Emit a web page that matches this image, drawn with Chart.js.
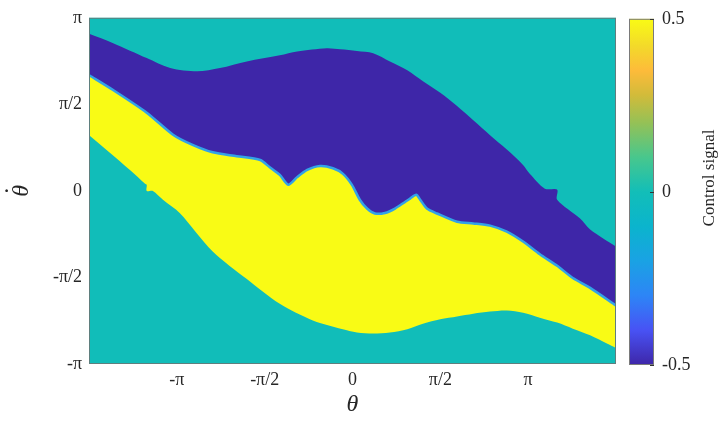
<!DOCTYPE html>
<html>
<head>
<meta charset="utf-8">
<script src="https://cdn.jsdelivr.net/npm/chart.js@4/dist/chart.umd.min.js"></script>
<style>
  html, body { margin: 0; padding: 0; background: #fff; }
  #wrap { position: relative; width: 722px; height: 424px; }
  #main { position: absolute; left: 0; top: 0; }
  #cbar { position: absolute; left: 629px; top: 0; }
</style>
</head>
<body>
<div id="wrap">
  <canvas id="main" width="722" height="424"></canvas>
  <canvas id="cbar" width="93" height="424"></canvas>
</div>
<script>
const PI = Math.PI;

// axis ticks
const xTickValues = [-PI, -PI / 2, 0, PI / 2, PI];
const xTickLabels = ["-π", "-π/2", "0", "π/2", "π"];
const yTickValues = [-PI, -PI / 2, 0, PI / 2, PI];
const yTickLabels = ["-π", "-π/2", "0", "π/2", "π"];
const cbTickValues = [-0.5, 0, 0.5];
const cbTickLabels = ["-0.5", "0", "0.5"];

// upper edge of the -0.5 region (theta, theta dot)
const topTheta = [-4.71, -4.28, -3.68, -3.26, -2.78, -2.37, -1.89, -1.30, -0.99, -0.46, -0.22, 0.08, 0.37, 0.67, 0.98, 1.26, 1.57, 1.87, 2.16, 2.46, 2.76, 3.05, 3.17, 3.44, 3.66, 3.66, 4.07, 4.25, 4.71];
const topOmega = [2.85, 2.68, 2.41, 2.23, 2.17, 2.23, 2.35, 2.46, 2.53, 2.59, 2.57, 2.54, 2.50, 2.35, 2.19, 1.99, 1.78, 1.54, 1.28, 1.01, 0.75, 0.47, 0.31, 0.04, 0.02, -0.16, -0.50, -0.70, -1.01];

// switching curve between -0.5 and +0.5
const midTheta = [-4.71, -4.28, -3.68, -3.21, -2.85, -2.50, -2.07, -1.65, -1.48, -1.30, -1.15, -0.99, -0.81, -0.58, -0.35, -0.17, -0.01, 0.13, 0.26, 0.40, 0.58, 0.76, 0.94, 1.03, 1.14, 1.21, 1.33, 1.51, 1.87, 2.16, 2.46, 2.76, 3.05, 3.35, 3.66, 3.94, 4.25, 4.71];
const midOmega = [2.10, 1.83, 1.42, 1.02, 0.83, 0.70, 0.63, 0.56, 0.43, 0.29, 0.11, 0.25, 0.38, 0.45, 0.41, 0.31, 0.11, -0.16, -0.32, -0.41, -0.40, -0.32, -0.20, -0.14, -0.07, -0.16, -0.32, -0.41, -0.56, -0.59, -0.63, -0.74, -0.92, -1.15, -1.36, -1.58, -1.76, -2.08];

// lower edge of the +0.5 region
const botTheta = [-4.71, -3.98, -3.71, -3.68, -3.68, -3.57, -3.39, -3.09, -2.50, -1.89, -1.30, -0.71, -0.10, 0.08, 0.37, 0.67, 0.98, 1.26, 1.57, 1.87, 2.16, 2.46, 2.76, 3.05, 3.35, 3.66, 3.94, 4.25, 4.55, 4.71];
const botOmega = [1.01, 0.38, 0.13, 0.11, 0.00, 0.00, -0.16, -0.40, -1.10, -1.60, -2.05, -2.35, -2.53, -2.57, -2.59, -2.57, -2.51, -2.41, -2.33, -2.28, -2.23, -2.19, -2.17, -2.21, -2.30, -2.39, -2.50, -2.62, -2.77, -2.85];

const TEAL = "#11bdb9";
const BLUE = "#3e26a8";
const YELLOW = "#f9fb15";
const TXT = "#262626";
const SERIF = "'Liberation Serif', 'Times New Roman', serif";

const pts = (xs, ys) => xs.map((x, i) => ({ x: x, y: ys[i] }));

const boxPlugin = {
  id: "box",
  beforeDraw(chart) {
    const a = chart.chartArea;
    const c = chart.ctx;
    c.save();
    c.fillStyle = TEAL;
    c.fillRect(a.left, a.top, a.right - a.left, a.bottom - a.top);
    c.restore();
  },
  afterDraw(chart) {
    const a = chart.chartArea;
    const c = chart.ctx;
    c.save();
    c.strokeStyle = "#5f7f7e";
    c.lineWidth = 1;
    c.strokeRect(a.left + 0.5, a.top + 0.5, a.right - a.left - 1, a.bottom - a.top - 1);
    c.restore();
  },
};

new Chart(document.getElementById("main"), {
  type: "line",
  data: {
    datasets: [
      {
        label: "lower",
        data: pts(botTheta, botOmega),
        backgroundColor: TEAL,
        borderWidth: 0,
        pointRadius: 0,
        tension: 0.3,
        fill: "start",
      },
      {
        label: "switch",
        data: pts(midTheta, midOmega),
        backgroundColor: YELLOW,
        borderColor: "#33a3e6",
        borderWidth: 2.5,
        pointRadius: 0,
        tension: 0.25,
        fill: "start",
      },
      {
        label: "upper",
        data: pts(topTheta, topOmega),
        backgroundColor: BLUE,
        borderWidth: 0,
        pointRadius: 0,
        tension: 0.3,
        fill: "start",
      },
    ],
  },
  options: {
    responsive: false,
    animation: false,
    devicePixelRatio: 1,
    layout: { padding: { left: 0, right: 106, top: 13, bottom: 0 } },
    plugins: { legend: { display: false }, tooltip: { enabled: false } },
    scales: {
      x: {
        type: "linear",
        min: -1.5 * PI,
        max: 1.5 * PI,
        afterBuildTicks: (s) => { s.ticks = xTickValues.map((v) => ({ value: v })); },
        afterFit: (s) => { s.height = 60; },
        grid: { display: false, drawTicks: false },
        border: { display: false },
        ticks: {
          color: TXT,
          padding: 5,
          font: { family: SERIF, size: 18 },
          maxRotation: 0,
          callback: (v) => xTickLabels[xTickValues.findIndex((t) => Math.abs(t - v) < 1e-6)],
        },
        title: {
          display: true,
          text: "θ",
          color: TXT,
          font: { family: SERIF, size: 24, style: "italic" },
          padding: { top: 0, bottom: 5 },
        },
      },
      y: {
        type: "linear",
        min: -PI,
        max: PI,
        afterBuildTicks: (s) => { s.ticks = yTickValues.map((v) => ({ value: v })); },
        afterFit: (s) => { s.width = 89; },
        grid: { display: false, drawTicks: false },
        border: { display: false },
        ticks: {
          color: TXT,
          padding: 7,
          font: { family: SERIF, size: 18 },
          callback: (v) => yTickLabels[yTickValues.findIndex((t) => Math.abs(t - v) < 1e-6)],
        },
        title: {
          display: true,
          text: ["·", "θ"],
          color: TXT,
          font: { family: SERIF, size: 24, style: "italic", lineHeight: 0.6 },
          padding: { top: 0, bottom: 0 },
        },
      },
    },
  },
  plugins: [boxPlugin],
});

// colour bar
const parulaStops = [
  [0.0, "#3e26a8"], [0.1, "#4852f4"], [0.2, "#2d85f6"], [0.3, "#1aa2e4"],
  [0.4, "#0bb4cd"], [0.5, "#12beb8"], [0.6, "#48c78d"], [0.7, "#95c156"],
  [0.78, "#d2bb3a"], [0.85, "#fdbb3a"], [0.92, "#f3d92a"], [1.0, "#f9fb15"],
];

const cbarPlugin = {
  id: "cbarBox",
  afterDraw(chart) {
    const a = chart.chartArea;
    const c = chart.ctx;
    const ys = chart.scales.y;
    c.save();
    c.strokeStyle = "#7a7a7a";
    c.lineWidth = 1;
    c.strokeRect(a.left + 0.5, a.top + 0.5, a.right - a.left - 1, a.bottom - a.top - 1);
    c.strokeStyle = "#333";
    cbTickValues.forEach((v) => {
      const y = Math.round(ys.getPixelForValue(v)) + 0.5;
      c.beginPath();
      c.moveTo(a.right - 4, y);
      c.lineTo(a.right, y);
      c.stroke();
    });
    c.fillStyle = TXT;
    c.font = "17px " + SERIF;
    c.textAlign = "center";
    c.textBaseline = "middle";
    c.translate(81, 178);
    c.rotate(-Math.PI / 2);
    c.fillText("Control signal", 0, 0);
    c.restore();
  },
};

new Chart(document.getElementById("cbar"), {
  type: "bar",
  data: {
    labels: [""],
    datasets: [
      {
        data: [[-0.5, 0.5]],
        borderWidth: 0,
        barPercentage: 1,
        categoryPercentage: 1,
        backgroundColor: (ctx) => {
          const a = ctx.chart.chartArea;
          if (!a) return TEAL;
          const g = ctx.chart.ctx.createLinearGradient(0, a.bottom, 0, a.top);
          parulaStops.forEach(([p, col]) => g.addColorStop(p, col));
          return g;
        },
      },
    ],
  },
  options: {
    responsive: false,
    animation: false,
    devicePixelRatio: 1,
    layout: { padding: { left: 0, right: 0, top: 13, bottom: 59 } },
    plugins: { legend: { display: false }, tooltip: { enabled: false } },
    scales: {
      x: { display: false },
      y: {
        position: "right",
        min: -0.5,
        max: 0.5,
        afterBuildTicks: (s) => { s.ticks = cbTickValues.map((v) => ({ value: v })); },
        afterFit: (s) => { s.width = 68; },
        grid: { display: false, drawTicks: false },
        border: { display: false },
        ticks: {
          color: TXT,
          padding: 8,
          font: { family: SERIF, size: 18 },
          callback: (v) => cbTickLabels[cbTickValues.findIndex((t) => Math.abs(t - v) < 1e-6)],
        },
      },
    },
  },
  plugins: [cbarPlugin],
});
</script>
</body>
</html>
